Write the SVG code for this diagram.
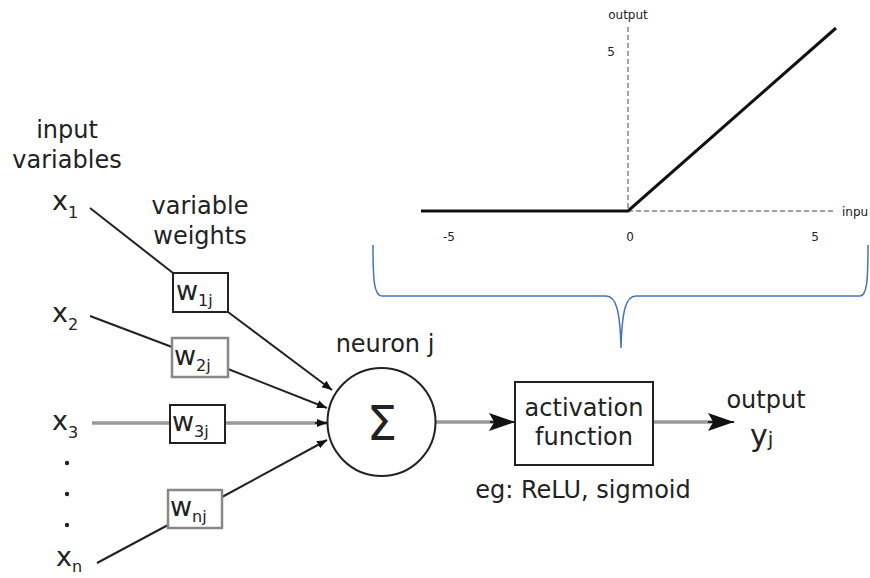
<svg xmlns="http://www.w3.org/2000/svg" width="870" height="578" viewBox="0 0 870 578">
<style>
text{font-family:"DejaVu Sans",sans-serif;fill:#222}
.lbl{font-size:24px}
.x{font-size:27px}
.sub{font-size:16px}
.box{fill:#fff;stroke:#222;stroke-width:2}
.gbox{fill:#fff;stroke:#888;stroke-width:2.5}
.ln{stroke:#222;stroke-width:2;fill:none}
.gl{stroke:#999;stroke-width:3.5;fill:none}
.small{font-size:12px}
.dash{stroke:#444;stroke-width:1;stroke-dasharray:5 3;fill:none}
</style>
<defs>
<marker id="ah" viewBox="0 0 10 10" refX="10" refY="5" markerWidth="10" markerHeight="10" markerUnits="userSpaceOnUse" orient="auto"><path d="M0,1 L10,5 L0,9 Z" fill="#111"/></marker>
<marker id="bh" viewBox="0 0 10 10" refX="10" refY="5" markerWidth="26" markerHeight="26" markerUnits="userSpaceOnUse" orient="auto"><path d="M0,1.5 L10,5 L0,8.5 L2,5 Z" fill="#111"/></marker>
</defs>

<g id="chart">
<line class="dash" x1="628" y1="27" x2="628" y2="211"/>
<line class="dash" x1="628" y1="211" x2="836" y2="211"/>
<polyline points="421,211 628,211 836,28" fill="none" stroke="#111" stroke-width="3"/>
<text class="small" x="628" y="19" text-anchor="middle">output</text>
<text class="small" x="611" y="56" text-anchor="middle">5</text>
<text class="small" x="842" y="216">inpu</text>
<text class="small" x="449" y="241" text-anchor="middle">-5</text>
<text class="small" x="630" y="241" text-anchor="middle">0</text>
<text class="small" x="815" y="241" text-anchor="middle">5</text>
</g>

<g id="brace">
<path d="M373,245 C373,280 374,296 382,296 L606,296 C616,296 620,310 621,348 C622,310 626,296 636,296 L860,296 C867,296 868,280 868,245" fill="none" stroke="#4472C4" stroke-width="1.5"/>
</g>

<g id="connectors">
<line class="ln" x1="90" y1="208" x2="173" y2="273"/>
<line class="ln" x1="90" y1="316" x2="172" y2="347"/>
<line class="gl" x1="92" y1="423" x2="170" y2="423"/>
<line class="ln" x1="97" y1="563" x2="168" y2="525"/>
<line class="ln" x1="228" y1="312" x2="332" y2="390" marker-end="url(#ah)"/>
<line class="ln" x1="228" y1="369" x2="327" y2="408" marker-end="url(#ah)"/>
<line class="gl" x1="225" y1="423" x2="327" y2="423"/>
<line class="ln" x1="315" y1="423" x2="327" y2="423" marker-end="url(#ah)"/>
<line class="ln" x1="222" y1="497" x2="327" y2="440" marker-end="url(#ah)"/>
<line class="gl" x1="436" y1="422" x2="500" y2="422"/>
<line class="ln" x1="490" y1="422" x2="515" y2="422" marker-end="url(#bh)"/>
<line class="gl" x1="653" y1="422" x2="715" y2="422"/>
<line class="ln" x1="708" y1="422" x2="734" y2="422" marker-end="url(#bh)"/>
</g>

<g id="inputs">
<text class="lbl" x="67" y="138" text-anchor="middle">input</text>
<text class="lbl" x="67" y="168" text-anchor="middle">variables</text>
<text class="x" x="52" y="210">x<tspan class="sub" dy="8">1</tspan></text>
<text class="x" x="52" y="322">x<tspan class="sub" dy="8">2</tspan></text>
<text class="x" x="52" y="430">x<tspan class="sub" dy="8">3</tspan></text>
<circle cx="67" cy="463" r="2.2" fill="#222"/>
<circle cx="67" cy="494" r="2.2" fill="#222"/>
<circle cx="67" cy="525" r="2.2" fill="#222"/>
<text class="x" x="56" y="566">x<tspan class="sub" dy="6">n</tspan></text>
</g>

<g id="weights">
<text class="lbl" x="200" y="214" text-anchor="middle">variable</text>
<text class="lbl" x="200" y="244" text-anchor="middle">weights</text>
<g id="w1"><rect class="box" x="173" y="273" width="55" height="39"/><text class="x" x="176" y="300">w<tspan class="sub" dy="6">1j</tspan></text></g>
<g id="w2"><rect class="gbox" x="172" y="338" width="56" height="39"/><text class="x" x="174" y="365">w<tspan class="sub" dy="6">2j</tspan></text></g>
<g id="w3"><rect class="box" x="170" y="405" width="55" height="38"/><text class="x" x="172" y="431">w<tspan class="sub" dy="6">3j</tspan></text></g>
<g id="wn"><rect class="gbox" x="168" y="490" width="54" height="38"/><text class="x" x="170" y="516">w<tspan class="sub" dy="6">nj</tspan></text></g>
</g>

<g id="neuron">
<text class="lbl" x="385" y="352" text-anchor="middle">neuron j</text>
<circle cx="381.5" cy="422" r="54" fill="#fff" stroke="#222" stroke-width="2"/>
<text x="382" y="440" font-size="48" text-anchor="middle">Σ</text>
</g>

<g id="activation">
<rect class="box" x="515" y="382" width="138" height="83" stroke-width="2.5"/>
<text class="lbl" x="584" y="416" text-anchor="middle">activation</text>
<text class="lbl" x="584" y="445" text-anchor="middle">function</text>
<text class="lbl" x="583" y="498" text-anchor="middle">eg: ReLU, sigmoid</text>
</g>

<g id="output">
<text class="lbl" x="766" y="408" text-anchor="middle">output</text>
<text x="750" y="446" font-size="30">y<tspan font-size="20">j</tspan></text>
</g>
</svg>
